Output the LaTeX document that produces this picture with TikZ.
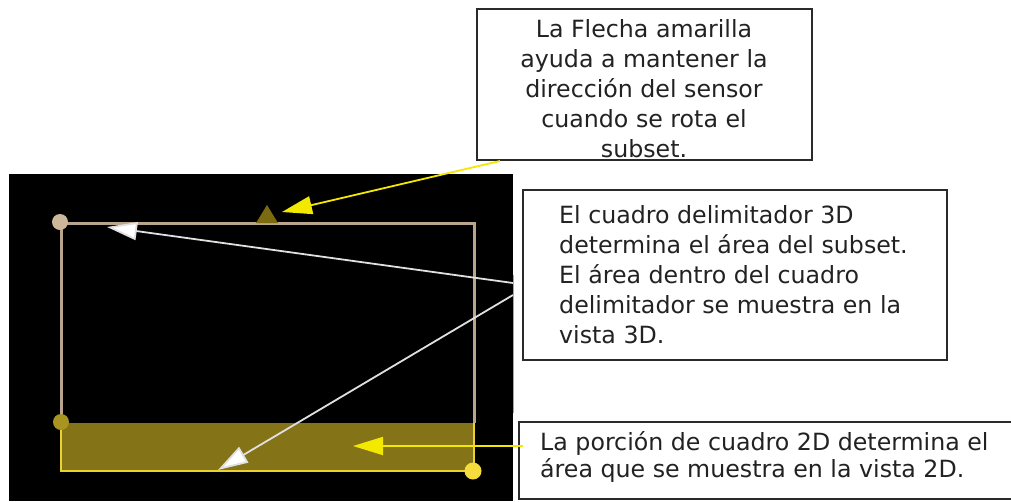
\documentclass[tikz,border=0pt]{standalone}
\usepackage{fontspec}
\setmainfont{DejaVu Sans}
\usetikzlibrary{arrows.meta}
\definecolor{tanline}{HTML}{B8A58C}
\definecolor{tandot}{HTML}{CDB79B}
\definecolor{olive}{HTML}{857318}
\definecolor{oliveline}{HTML}{EAD232}
\definecolor{olivedot}{HTML}{A89420}
\definecolor{ydot}{HTML}{F5DC3C}
\definecolor{tri}{HTML}{7C6A10}
\definecolor{yarrow}{HTML}{F2E800}
\definecolor{boxline}{HTML}{2A2A2A}
\definecolor{txtcol}{HTML}{222222}
\tikzset{
  box/.style={draw=boxline, line width=2pt, fill=white},
  txt/.style={inner sep=0pt, text=txtcol, font=\fontsize{23.7pt}{30pt}\selectfont},
  warrow/.style={draw=white!88!black, line width=1.8pt, -{Triangle[length=30pt,width=18pt,fill=white]}},
  yarr/.style={draw=yarrow, line width=1.8pt, -{Triangle[length=30pt,width=18pt,fill=yarrow]}},
}
\begin{document}
\begin{tikzpicture}[x=1pt,y=-1pt]
\useasboundingbox (0,0) rectangle (1011,501);
\fill[white] (0,0) rectangle (1011,501);
% black viewport
\fill[black] (9,174) rectangle (513,501);
\draw[gray!70, line width=1pt] (513,275) -- (513,413);
% 2D portion
\fill[olive] (61,423) rectangle (474,471);
\draw[oliveline, line width=2pt] (61,423) -- (61,471) -- (474,471) -- (474,423);
% 3D bounding frame
\draw[tanline, line width=3pt] (61,423) -- (61,223) -- (474,223) -- (474,423);
% direction triangle
\fill[tri] (256,223) -- (267,205) -- (278,223) -- cycle;
% handles
\fill[tandot] (60,222) circle (8);
\fill[olivedot] (61,422) circle (8);
\fill[ydot] (473,471) circle (8.5);
% targets
\coordinate (tTri) at (282,212);
\coordinate (tTop) at (107,227);
\coordinate (tBot) at (218,470);
\coordinate (t2D) at (353,446);
% boxes
\node[box, minimum width=335pt, minimum height=151pt, inner sep=0pt] (box1) at (644.5,84.5) {};
\node[box, minimum width=424pt, minimum height=170pt, inner sep=0pt] (box2) at (735,275) {};
\node[box, minimum width=510pt, minimum height=77pt, inner sep=0pt, anchor=north west] (box3) at (518,421) {};
% texts
\node[txt, align=center, anchor=north] (t1) at (644,19) {La Flecha amarilla\\ayuda a mantener la\\dirección del sensor\\cuando se rota el\\subset.};
\node[txt, align=left, anchor=north west] (t2) at (559,205) {El cuadro delimitador 3D\\determina el área del subset.\\El área dentro del cuadro\\delimitador se muestra en la\\vista 3D.};
\node[txt, align=left, anchor=north west, font=\fontsize{23.7pt}{27pt}\selectfont] (t3) at (540,431) {La porción de cuadro 2D determina el\\área que se muestra en la vista 2D.};
% connectors
\coordinate (s1) at (500,161);
\coordinate (s2a) at (513,283);
\coordinate (s2b) at (513,295);
\coordinate (s3) at (523,446);
\draw[yarr] (s1) -- (tTri);
\draw[warrow] (s2a) -- (tTop);
\draw[warrow] (s2b) -- (tBot);
\draw[yarr] (s3) -- (t2D);
\end{tikzpicture}
\end{document}
